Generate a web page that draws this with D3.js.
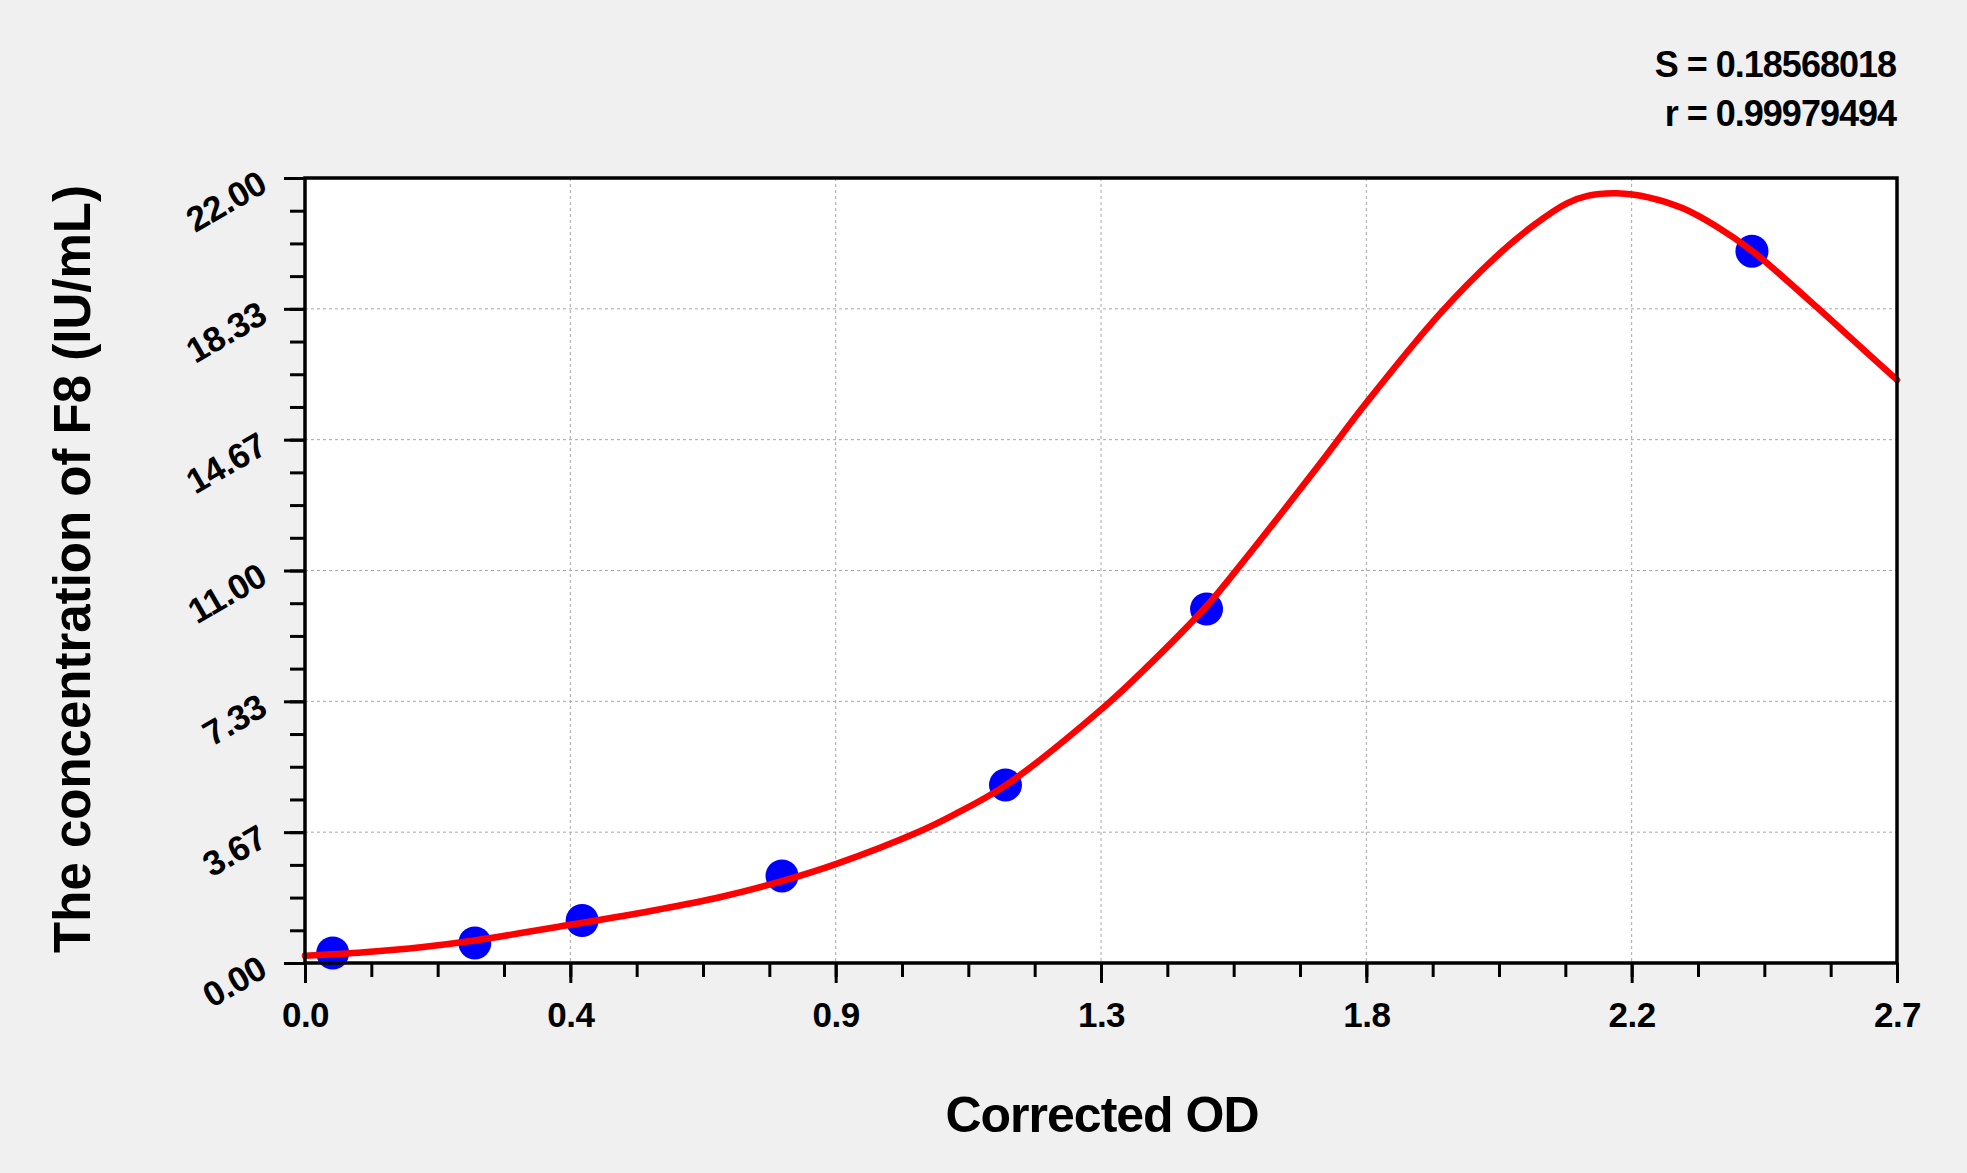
<!DOCTYPE html>
<html>
<head>
<meta charset="utf-8">
<script src="https://cdn.jsdelivr.net/npm/d3@7"></script>
<style>
  html, body { margin: 0; padding: 0; background: #f0f0f0; }
  svg { display: block; }
  text { font-family: "Liberation Sans", Arial, sans-serif; font-weight: bold; fill: #000; }
</style>
</head>
<body>
<script>
// ---- data ----
const pointX = [0.047, 0.288, 0.470, 0.809, 1.188, 1.529, 2.454];
const pointY = [0.28, 0.56, 1.19, 2.44, 4.99, 9.92, 19.95];

const curveX = [0, 0.1, 0.2, 0.29, 0.45, 0.6, 0.705, 0.81, 0.9, 1.044, 1.1, 1.19, 1.35, 1.425, 1.53, 1.583, 1.717, 1.8, 1.925, 2.027, 2.084, 2.14, 2.175, 2.225, 2.28, 2.337, 2.394, 2.454, 2.507, 2.564, 2.62, 2.7];
const curveY = [0.2, 0.3, 0.45, 0.64, 1.07, 1.5, 1.85, 2.3, 2.77, 3.7, 4.15, 5.0, 7.1, 8.25, 10.02, 11.08, 13.9, 15.7, 18.2, 19.9, 20.68, 21.29, 21.5, 21.57, 21.45, 21.15, 20.64, 19.96, 19.22, 18.38, 17.54, 16.34];

const xTickValues = [0, 0.45, 0.9, 1.35, 1.8, 2.25, 2.7];
const xTickLabels = ["0.0", "0.4", "0.9", "1.3", "1.8", "2.2", "2.7"];
const yTickValues = [0, 22/6, 44/6, 11, 88/6, 110/6, 22];
const yTickLabels = ["0.00", "3.67", "7.33", "11.00", "14.67", "18.33", "22.00"];

const xTitle = "Corrected OD";
const yTitle = "The concentration of F8 (IU/mL)";
const statsLines = ["S = 0.18568018", "r = 0.99979494"];

// ---- layout ----
const W = 1967, H = 1173;
const L = 305, R = 1897, T = 178, B = 963;

const svg = d3.select("body").append("svg").attr("width", W).attr("height", H);
svg.append("rect").attr("width", W).attr("height", H).attr("fill", "#f0f0f0");

const x = d3.scaleLinear().domain([0, 2.7]).range([L, R]);
const y = d3.scaleLinear().domain([0, 22]).range([B, T]);

// plot area
svg.append("rect").attr("x", L).attr("y", T).attr("width", R - L).attr("height", B - T).attr("fill", "#fff");

// grid
const grid = svg.append("g").attr("stroke", "#a8a8a8").attr("stroke-width", 1).attr("stroke-dasharray", "3,3");
xTickValues.slice(1, -1).forEach(v => {
  grid.append("line").attr("x1", x(v)).attr("x2", x(v)).attr("y1", T).attr("y2", B);
});
yTickValues.slice(1, -1).forEach(v => {
  grid.append("line").attr("x1", L).attr("x2", R).attr("y1", y(v)).attr("y2", y(v));
});

// minor ticks
const xMinor = d3.range(0, 25).map(i => i * 2.7 / 24);
const yMinor = d3.range(0, 25).map(i => i * 22 / 24);

const xAxisMinor = svg.append("g").attr("transform", `translate(0,${B})`)
  .call(d3.axisBottom(x).tickValues(xMinor).tickSize(14).tickFormat(""));
const yAxisMinor = svg.append("g").attr("transform", `translate(${L},0)`)
  .call(d3.axisLeft(y).tickValues(yMinor).tickSize(15).tickFormat(""));
[xAxisMinor, yAxisMinor].forEach(g => {
  g.select(".domain").remove();
  g.selectAll(".tick line").attr("stroke", "#000").attr("stroke-width", 3);
});

// major ticks
const xAxis = svg.append("g").attr("transform", `translate(0,${B})`)
  .call(d3.axisBottom(x).tickValues(xTickValues).tickSize(20).tickFormat((d, i) => xTickLabels[i]));
xAxis.select(".domain").remove();
xAxis.selectAll(".tick line").attr("stroke", "#000").attr("stroke-width", 3);
xAxis.selectAll(".tick text")
  .attr("y", 0).attr("dy", null)
  .attr("transform", "translate(0,64)")
  .style("font-family", "'Liberation Sans', Arial, sans-serif")
  .style("font-weight", "bold").style("font-size", "35px").style("letter-spacing", "-0.5px").attr("fill", "#000");

const yAxis = svg.append("g").attr("transform", `translate(${L},0)`)
  .call(d3.axisLeft(y).tickValues(yTickValues).tickSize(21).tickFormat((d, i) => yTickLabels[i]));
yAxis.select(".domain").remove();
yAxis.selectAll(".tick line").attr("stroke", "#000").attr("stroke-width", 3);
yAxis.selectAll(".tick text")
  .attr("x", 0).attr("dy", null)
  .attr("text-anchor", "end")
  .attr("transform", "translate(-36,12) rotate(-30)")
  .style("font-family", "'Liberation Sans', Arial, sans-serif")
  .style("font-weight", "bold").style("font-size", "35px").style("letter-spacing", "-0.5px").attr("fill", "#000");

// points
svg.append("g").selectAll("circle")
  .data(pointX.map((v, i) => [v, pointY[i]]))
  .join("circle")
  .attr("cx", d => x(d[0])).attr("cy", d => y(d[1])).attr("r", 16.5)
  .attr("fill", "#0000ff");

// curve
const line = d3.line().x(d => x(d[0])).y(d => y(d[1])).curve(d3.curveCatmullRom.alpha(0.5));
svg.append("path")
  .datum(curveX.map((v, i) => [v, curveY[i]]))
  .attr("d", line)
  .attr("fill", "none").attr("stroke", "#ff0000").attr("stroke-width", 6.5)
  .attr("stroke-linejoin", "round").attr("stroke-linecap", "round");

// frame
svg.append("rect").attr("x", L).attr("y", T).attr("width", R - L).attr("height", B - T)
  .attr("fill", "none").attr("stroke", "#000").attr("stroke-width", 3.5);

// titles
svg.append("text").attr("x", 1102).attr("y", 1132).attr("text-anchor", "middle")
  .style("font-size", "50px").style("letter-spacing", "-1px").text(xTitle);

svg.append("text").attr("transform", "translate(90,569) rotate(-90)").attr("text-anchor", "middle")
  .style("font-size", "51px").text(yTitle);

// stats
statsLines.forEach((s, i) => {
  svg.append("text").attr("x", 1896).attr("y", 77 + i * 49).attr("text-anchor", "end")
    .style("font-size", "36px").style("letter-spacing", "-1px").text(s);
});
</script>
</body>
</html>
